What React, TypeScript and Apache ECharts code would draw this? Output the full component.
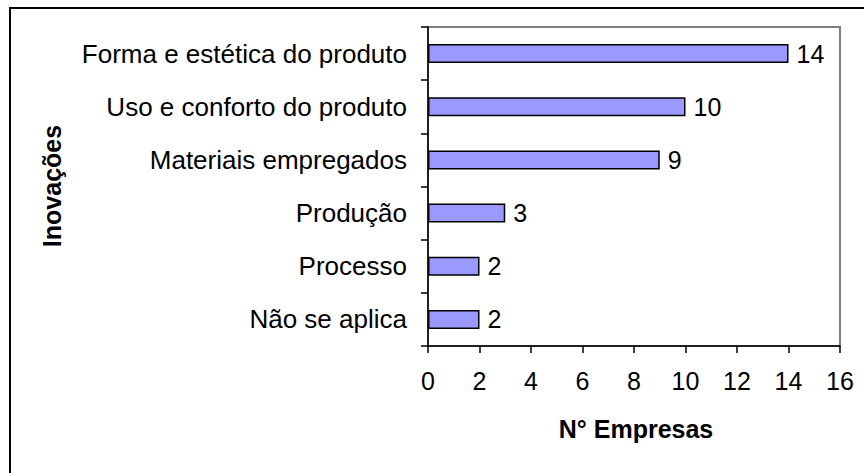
import React, { useEffect, useRef } from "react";
import * as echarts from "echarts";

const categories = [
  "Forma e estética do produto",
  "Uso e conforto do produto",
  "Materiais empregados",
  "Produção",
  "Processo",
  "Não se aplica",
];
const values = [14, 10, 9, 3, 2, 2];
const xTitle = "N° Empresas";
const yTitle = "Inovações";

const FONT = "'Liberation Sans', Arial, sans-serif";

export default function App() {
  const ref = useRef<HTMLDivElement>(null);
  useEffect(() => {
    if (!ref.current) return;
    const chart = echarts.init(ref.current, null, { renderer: "svg" });
    chart.setOption({
      animation: false,
      backgroundColor: "#ffffff",
      textStyle: { fontFamily: FONT },
      grid: {
        left: 428,
        right: 24,
        top: 27,
        bottom: 127,
        show: true,
        borderColor: "#808080",
        borderWidth: 2,
        backgroundColor: "transparent",
      },
      xAxis: {
        type: "value",
        min: 0,
        max: 16,
        interval: 2,
        splitLine: { show: false },
        axisLine: { show: true, lineStyle: { color: "#000", width: 1.5 } },
        axisTick: { show: true, length: 7, inside: false, lineStyle: { color: "#000", width: 1.5 } },
        axisLabel: { color: "#000", fontSize: 25, margin: 22, fontFamily: FONT },
      },
      yAxis: {
        type: "category",
        data: categories,
        inverse: true,
        axisLine: { show: true, lineStyle: { color: "#000", width: 1.5 } },
        axisTick: { show: true, length: 7, inside: false, lineStyle: { color: "#000", width: 1.5 } },
        axisLabel: { color: "#000", fontSize: 26, margin: 21, fontFamily: FONT },
      },
      series: [
        {
          type: "bar",
          data: values,
          barWidth: 19,
          itemStyle: { color: "#9999FF", borderColor: "#000", borderWidth: 1.5 },
          label: {
            show: true,
            position: "right",
            distance: 8,
            color: "#000",
            fontSize: 25,
            fontFamily: FONT,
          },
        },
      ],
      graphic: [
        {
          type: "line",
          shape: { x1: 10, y1: 8, x2: 10, y2: 473 },
          style: { stroke: "#000", lineWidth: 2 },
        },
        {
          type: "line",
          shape: { x1: 9, y1: 8, x2: 864, y2: 8 },
          style: { stroke: "#000", lineWidth: 2 },
        },
        {
          type: "text",
          x: 636,
          y: 429,
          style: {
            text: xTitle,
            fill: "#000",
            font: `bold 25px ${FONT}`,
            align: "center",
            verticalAlign: "middle",
          },
        },
        {
          type: "text",
          x: 52,
          y: 186,
          rotation: Math.PI / 2,
          style: {
            text: yTitle,
            fill: "#000",
            font: `bold 25px ${FONT}`,
            align: "center",
            verticalAlign: "middle",
          },
        },
      ],
    });
    return () => chart.dispose();
  }, []);
  return (
    <div
      ref={ref}
      style={{ width: 864, height: 473, position: "absolute", left: 0, top: 0 }}
    />
  );
}
